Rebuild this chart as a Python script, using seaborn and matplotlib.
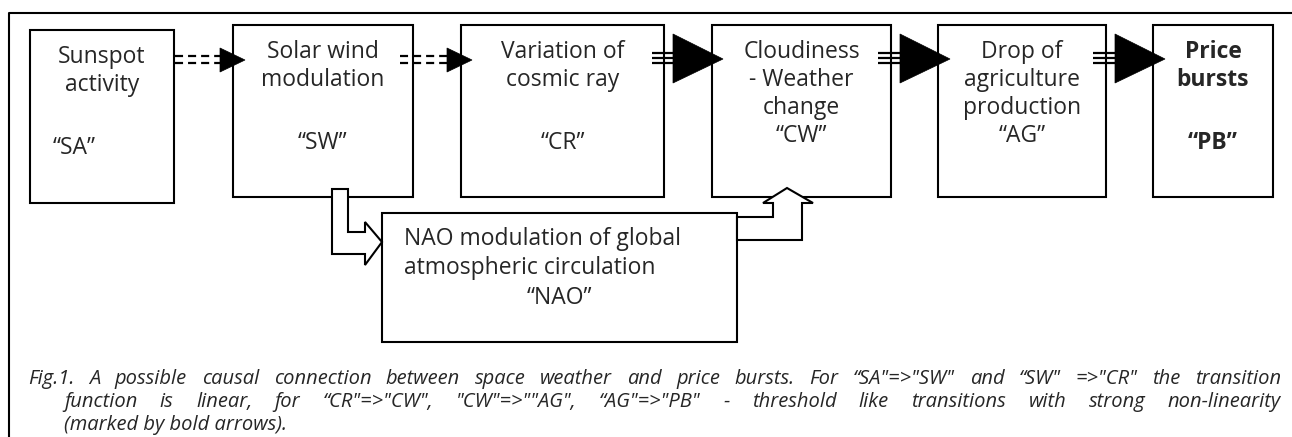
import matplotlib
matplotlib.use("Agg")
import matplotlib.pyplot as plt
from matplotlib.patches import Polygon, Rectangle
import seaborn as sns

# ---- content ----
node_codes = ["SA", "SW", "CR", "CW", "AG", "PB"]
node_titles = [
    ["Sunspot", "activity"],
    ["Solar wind", "modulation"],
    ["Variation of", "cosmic ray"],
    ["Cloudiness", "- Weather", "change"],
    ["Drop of", "agriculture", "production"],
    ["Price", "bursts"],
]
links = [("SA", "SW", "linear"), ("SW", "CR", "linear"),
         ("CR", "CW", "threshold"), ("CW", "AG", "threshold"),
         ("AG", "PB", "threshold")]
nao_title = ["NAO modulation of global", "atmospheric circulation"]
nao_code = "NAO"
caption_lines = [
    "Fig.1. A possible causal connection between space weather and price bursts. "
    "For \u201cSA\"=>\"SW\" and \u201cSW\" =>\"CR\" the transition",
    "function is linear, for \u201cCR\"=>\"CW\", \"CW\"=>\"\"AG\", "
    "\u201cAG\"=>\"PB\" - threshold like transitions with strong non-linearity",
    "(marked by bold arrows).",
]

# ---- layout (pixel coordinates) ----
W, H = 1292, 437
box_x0 = [30, 233, 461, 712, 938, 1153]
box_x1 = [174, 413, 664, 891, 1106, 1273]
box_top = [30, 25, 25, 25, 25, 25]
box_bot = [203, 197, 197, 197, 197, 197]
link_x0 = [175, 400, 652, 878, 1093]
head_x0 = [220, 447, 673, 900, 1115]
head_tip = [245, 472, 723, 950, 1165]
nao_box = (382, 213, 737, 342)

sns.set_theme(style="white")
plt.rcParams["font.family"] = ["Open Sans", "DejaVu Sans"]
plt.rcParams["lines.scale_dashes"] = False

fig = plt.figure(figsize=(W / 100, H / 100), dpi=100)
ax = fig.add_axes([0, 0, 1, 1])
ax.set_xlim(0, W)
ax.set_ylim(H, 0)
ax.axis("off")

LW = 1.5
FS = 16.5
CAP_FS = 14.5

# outer frame (right and bottom edges fall outside the picture)
ax.plot([9, 9, W], [H, 13, 13], color="black", lw=LW, solid_capstyle="butt")

# boxes with text
for i, code in enumerate(node_codes):
    x0, x1, t, b = box_x0[i], box_x1[i], box_top[i], box_bot[i]
    ax.add_patch(Rectangle((x0, t), x1 - x0, b - t, fill=False,
                           edgecolor="black", lw=LW, zorder=2))
    cx = (x0 + x1) / 2
    weight = "bold" if code == "PB" else "normal"
    lines = node_titles[i]
    for k, line in enumerate(lines):
        ax.text(cx, t + 27 + 28 * k, line, ha="center", va="center",
                fontsize=FS, weight=weight, zorder=4)
    cy = t + 111 if len(lines) >= 3 else t + 118
    label = "\u201c" + code + "\u201d"
    if i == 0:
        ax.text(53, cy, label, ha="left", va="center", fontsize=FS, zorder=4)
    else:
        ax.text(cx, cy, label, ha="center", va="center", fontsize=FS,
                weight=weight, zorder=4)

# transition arrows
for j, (src, dst, kind) in enumerate(links):
    if kind == "linear":
        for yy in (56, 62.5):
            ax.plot([link_x0[j], head_x0[j]], [yy, yy], color="black", lw=1.6,
                    linestyle=(0, (5.8, 3.6)), solid_capstyle="butt",
                    dash_capstyle="butt", zorder=3)
        tri = [(head_x0[j], 48), (head_x0[j], 72), (head_tip[j], 60)]
    else:
        for yy in (53, 58, 63):
            ax.plot([link_x0[j], head_x0[j]], [yy, yy], color="black", lw=1.6,
                    solid_capstyle="butt", zorder=3)
        tri = [(head_x0[j], 34), (head_x0[j], 83), (head_tip[j], 59)]
    ax.add_patch(Polygon(tri, closed=True, facecolor="black",
                         edgecolor="black", lw=0.5, zorder=3))

# NAO box
nx0, nt, nx1, nb = nao_box
ax.add_patch(Rectangle((nx0, nt), nx1 - nx0, nb - nt, fill=False,
                       edgecolor="black", lw=LW, zorder=2))
for k, line in enumerate(nao_title):
    ax.text(nx0 + 22, nt + 26 + 29 * k, line, ha="left", va="center",
            fontsize=FS, zorder=4)
ax.text((nx0 + nx1) / 2, nt + 85, "\u201c" + nao_code + "\u201d",
        ha="center", va="center", fontsize=FS, zorder=4)

# hollow arrows SW -> NAO and NAO -> CW
hollow_in = [(332, 189), (348, 189), (348, 232), (365, 232), (365, 222),
             (382, 242), (365, 265), (365, 254), (332, 254)]
hollow_out = [(737, 217), (773, 217), (773, 203), (763, 203), (787, 188),
              (813, 203), (802, 203), (802, 240), (737, 240)]
for pts in (hollow_in, hollow_out):
    ax.add_patch(Polygon(pts, closed=True, facecolor="white",
                         edgecolor="black", lw=LW, joinstyle="miter", zorder=5))

# caption (justified first two lines)
renderer = fig.canvas.get_renderer()
cap_y = [384, 407, 430]
cap_x0 = [28, 64, 64]
cap_x1 = 1281
for k, line in enumerate(caption_lines):
    if k == len(caption_lines) - 1:
        ax.text(cap_x0[k], cap_y[k], line, ha="left", va="baseline",
                fontsize=CAP_FS, style="italic")
        continue
    words = line.split(" ")
    texts = [ax.text(0, cap_y[k], w, ha="left", va="baseline",
                     fontsize=CAP_FS, style="italic") for w in words]
    widths = [t.get_window_extent(renderer).width for t in texts]
    gap = (cap_x1 - cap_x0[k] - sum(widths)) / (len(words) - 1)
    x = cap_x0[k]
    for t, w in zip(texts, widths):
        t.set_x(x)
        x += w + gap

fig.savefig("out.png", dpi=100, facecolor="white")
